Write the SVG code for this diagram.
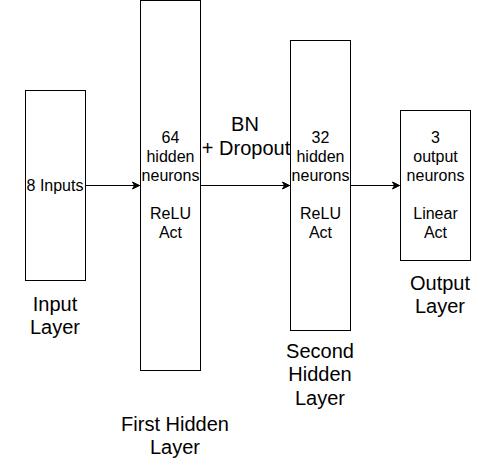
<svg xmlns="http://www.w3.org/2000/svg" width="496" height="471" viewBox="0 0 496 471">
<style>
.box{fill:#fff;stroke:#000;stroke-width:1}
.t{font-family:"Liberation Sans",Arial,sans-serif;font-size:16px;fill:#000;text-anchor:middle}
.l{font-family:"Liberation Sans",Arial,sans-serif;font-size:20px;fill:#000;text-anchor:middle}
.e{stroke:#000;stroke-width:1;fill:none}
</style>
<defs>
<marker id="arr" markerWidth="10" markerHeight="10" refX="8" refY="5" orient="auto" markerUnits="userSpaceOnUse">
<path d="M1,1.5 L8,5 L1,8.5 L3,5 Z" fill="#000" stroke="#000" stroke-width="1"/>
</marker>
</defs>
<rect width="496" height="471" fill="#fff"/>
<g id="connectors">
<path class="e" d="M85.5,185.5 L139.5,185.5" marker-end="url(#arr)"/>
<path class="e" d="M200.5,185.5 L289.5,185.5" marker-end="url(#arr)"/>
<path class="e" d="M350.5,185.5 L399.5,185.5" marker-end="url(#arr)"/>
</g>
<g id="input">
<rect class="box" x="25.5" y="90.5" width="60" height="190"/>
<text class="t" x="55" y="191">8 Inputs</text>
</g>
<g id="hidden1">
<rect class="box" x="140.5" y="0.5" width="60" height="370"/>
<text class="t" x="170.5" y="143">64</text>
<text class="t" x="170.5" y="162">hidden</text>
<text class="t" x="170.5" y="181">neurons</text>
<text class="t" x="170.5" y="219">ReLU</text>
<text class="t" x="170.5" y="238">Act</text>
</g>
<g id="hidden2">
<rect class="box" x="290.5" y="40.5" width="60" height="290"/>
<text class="t" x="320.5" y="143">32</text>
<text class="t" x="320.5" y="162">hidden</text>
<text class="t" x="320.5" y="181">neurons</text>
<text class="t" x="320.5" y="219">ReLU</text>
<text class="t" x="320.5" y="238">Act</text>
</g>
<g id="output">
<rect class="box" x="400.5" y="110.5" width="70" height="150"/>
<text class="t" x="435.5" y="143">3</text>
<text class="t" x="435.5" y="162">output</text>
<text class="t" x="435.5" y="181">neurons</text>
<text class="t" x="435.5" y="219">Linear</text>
<text class="t" x="435.5" y="238">Act</text>
</g>
<g id="bn-label">
<text class="l" x="245" y="131">BN</text>
<text class="l" x="246" y="155">+ Dropout</text>
</g>
<g id="input-label">
<text class="l" x="55" y="311">Input</text>
<text class="l" x="55" y="334">Layer</text>
</g>
<g id="hidden1-label">
<text class="l" x="175" y="431">First Hidden</text>
<text class="l" x="175" y="454">Layer</text>
</g>
<g id="hidden2-label">
<text class="l" x="320" y="358">Second</text>
<text class="l" x="320" y="381">Hidden</text>
<text class="l" x="320" y="405">Layer</text>
</g>
<g id="output-label">
<text class="l" x="440" y="290">Output</text>
<text class="l" x="440" y="313">Layer</text>
</g>
</svg>
